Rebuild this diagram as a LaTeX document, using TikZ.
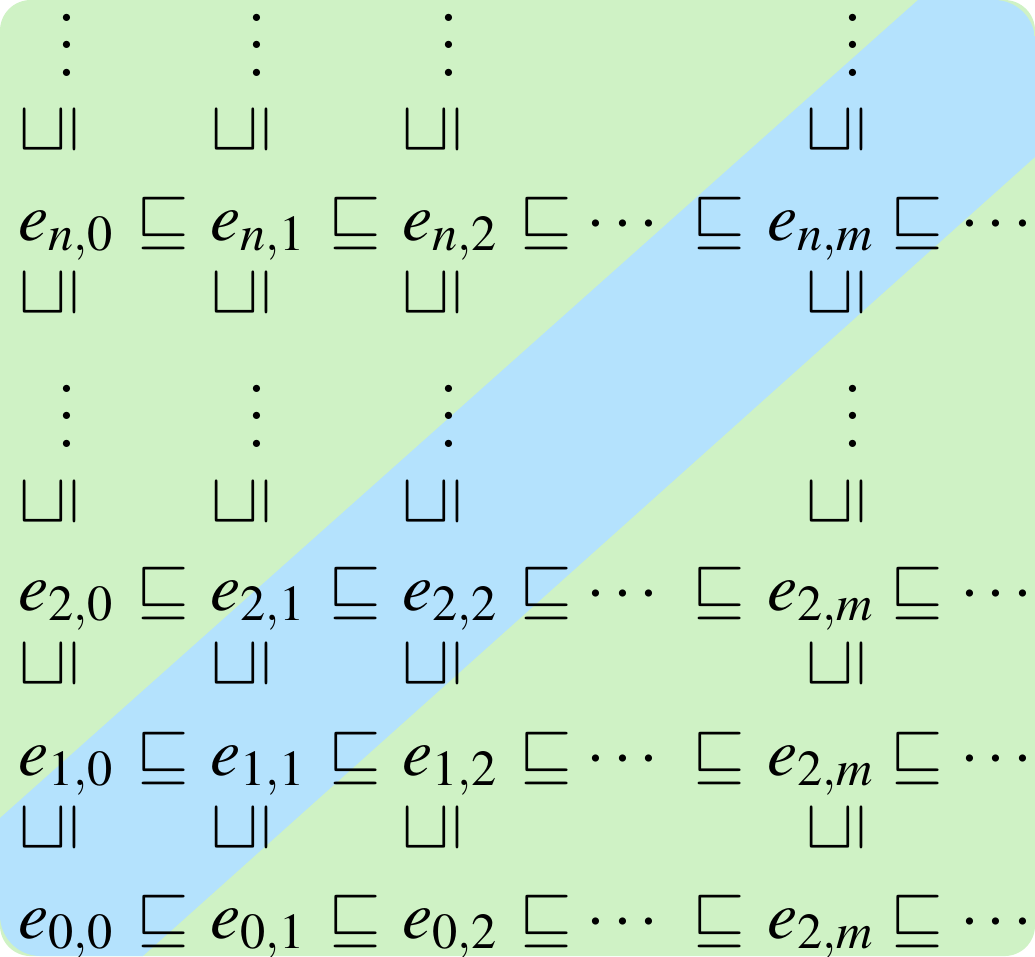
\documentclass[tikz,border=0pt]{standalone}
\usepackage{amsmath, amssymb}
\usepackage{mathptmx}
\usepackage{tikz}
\definecolor{chaingreen}{RGB}{207,242,197}
\definecolor{diagblue}{RGB}{180,226,253}

\begin{document}
\begin{tikzpicture}[x=0.1471pt, y=-0.1471pt, every node/.style={inner sep=0pt, outer sep=0pt},
  elem/.style={anchor=base west}, rel/.style={anchor=base}, vrel/.style={rotate=90}]
  \useasboundingbox (0,0) rectangle (1035,956);
  \fill[chaingreen, rounded corners=4.5pt] (0,0) rectangle (1035,956);
  \begin{scope}
    \clip[rounded corners=6pt] (0,0) rectangle (1035,956);
    \fill[diagblue] (974,-50) -- (1266,-50) -- (87,1006) -- (-211,1006) -- cycle;
  \end{scope}
  % horizontal chains
  \foreach \r/\m/\yb in {n/n/240, 2/2/610, 1/2/775, 0/2/938} {
    \node[elem] (e\r0) at (18,\yb) {$e_{\r,0}$};
    \node[rel] (s\r0) at (163,\yb) {$\sqsubseteq$};
    \node[elem] (e\r1) at (210,\yb) {$e_{\r,1}$};
    \node[rel] (s\r1) at (354.5,\yb) {$\sqsubseteq$};
    \node[elem] (e\r2) at (402,\yb) {$e_{\r,2}$};
    \node[rel] (s\r2) at (546,\yb) {$\sqsubseteq$};
    \node[rel] (c\r a) at (626.5,\yb) {$\cdots$};
    \node[rel] (s\r3) at (719,\yb) {$\sqsubseteq$};
    \node[elem] (e\r m) at (767,\yb) {$e_{\m,m}$};
    \node[rel] (s\r m) at (916.5,\yb) {$\sqsubseteq$};
    \node[rel] (c\r b) at (1000,\yb) {$\cdots$};
  }
  % vertical relations
  \foreach \x/\c in {49.5/0, 241/1, 432.5/2, 836.5/m}
    \foreach \y/\k in {130/a, 293/b, 502/c, 664/d, 828/e}
      \node[vrel] (v\c\k) at (\x,\y) {$\sqsubseteq$};
  \foreach \x/\c in {67/0, 257/1, 449/2, 853/m} {
    \node[rel] (dt\c) at (\x,76) {$\vdots$};
    \node[rel] (dm\c) at (\x,447) {$\vdots$};
  }
\end{tikzpicture}
\end{document}
